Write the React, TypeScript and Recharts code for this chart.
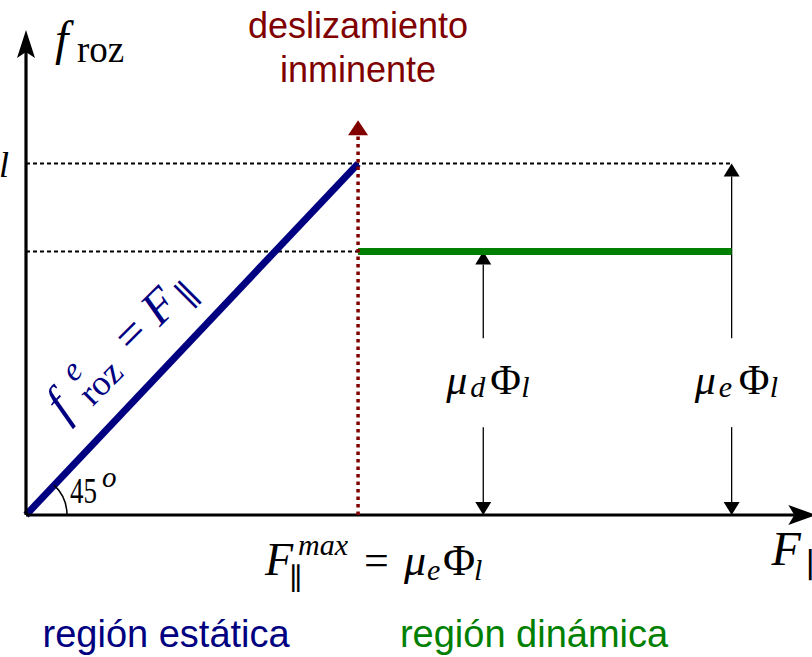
import React from 'react';
import { ComposedChart, Line, XAxis, YAxis, ReferenceLine, ReferenceDot } from 'recharts';

const AZUL = '#000080';
const VERDE = '#008000';
const GRANATE = '#800000';
const SERIF = '"Liberation Serif", "DejaVu Serif", serif';
const SANS = '"Liberation Sans", Arial, sans-serif';

// F|| en el eje x, f_roz en el eje y; unidad: mu_e*Phi_l = 10
const limiteEjes = [23.67, 13.8];
const fuerzaMaxima = 10;
const rozDinamico = 7.5;
const cotas = [13.77, 21.25]; // flechas de mu_d Phi_l y mu_e Phi_l
const huecoCota = [2.5, 5.03];
const alturaCota = 3.44;

const tramoEstatico = [
  { F: 0, f: 0 },
  { F: fuerzaMaxima, f: fuerzaMaxima },
];
const tramoDinamico = [
  { F: fuerzaMaxima, f: rozDinamico },
  { F: cotas[1], f: rozDinamico },
];

// linea con punta de flecha (notch > 0 da la punta tipo "stealth")
const flecha = (len: number, half: number, notch = 0) => (p: any) => {
  const { x1, y1, x2, y2, stroke, strokeWidth, strokeDasharray } = p;
  const d = Math.hypot(x2 - x1, y2 - y1) || 1;
  const ux = (x2 - x1) / d;
  const uy = (y2 - y1) / d;
  const bx = x2 - ux * len;
  const by = y2 - uy * len;
  const mx = bx + ux * notch;
  const my = by + uy * notch;
  const pts = [
    [x2, y2],
    [bx - uy * half, by + ux * half],
    [mx, my],
    [bx + uy * half, by - ux * half],
  ];
  return (
    <g>
      <line x1={x1} y1={y1} x2={mx} y2={my} stroke={stroke} strokeWidth={strokeWidth} strokeDasharray={strokeDasharray} />
      <polygon points={pts.map((q) => q.join(',')).join(' ')} fill={stroke} />
    </g>
  );
};

const MuPhi = ({ cx, cy, sub }: { cx: number; cy: number; sub: string }) => (
  <g fontFamily={SERIF} fill="#000">
    <text x={cx - 37} y={cy} fontSize={42} fontStyle="italic">μ</text>
    <text x={cx - 13} y={cy + 3} fontSize={30} fontStyle="italic">{sub}</text>
    <text x={cx + 7} y={cy} fontSize={42}>Φ</text>
    <text x={cx + 38} y={cy + 3} fontSize={30} fontStyle="italic">l</text>
  </g>
);

const TituloY = ({ cx, cy }: any) => (
  <g fontFamily={SERIF} fill="#000">
    <text x={cx} y={cy} fontSize={48} fontStyle="italic">f</text>
    <text x={cx + 22} y={cy + 7} fontSize={37}>roz</text>
  </g>
);

const TituloX = ({ cx, cy }: any) => (
  <g fontFamily={SERIF} fill="#000">
    <text x={cx} y={cy} fontSize={48} fontStyle="italic">F</text>
    <text x={cx + 34} y={cy + 12} fontSize={34}>∥</text>
  </g>
);

const Angulo = ({ cx, cy }: any) => {
  const r = 41;
  const a = (46.7 * Math.PI) / 180;
  return (
    <g>
      <path d={`M ${cx + r} ${cy} A ${r} ${r} 0 0 0 ${cx + r * Math.cos(a)} ${cy - r * Math.sin(a)}`} fill="none" stroke="#000" strokeWidth={1.5} />
      <text x={cx + 44} y={cy - 12} fontFamily={SERIF} fontSize={36} textLength={27} lengthAdjust="spacingAndGlyphs">45</text>
      <text x={cx + 76} y={cy - 28} fontFamily={SERIF} fontSize={29} fontStyle="italic">o</text>
    </g>
  );
};

const Pendiente = ({ cx, cy }: any) => (
  <g transform={`translate(${cx},${cy}) rotate(-45)`} fontFamily={SERIF} fill={AZUL}>
    <text x={-92} y={0} fontSize={50} fontStyle="italic">f</text>
    <text x={-58} y={-21} fontSize={33} fontStyle="italic">e</text>
    <text x={-62} y={9} fontSize={36}>roz</text>
    <text x={3} y={0} fontSize={48}>=</text>
    <text x={42} y={0} fontSize={48} fontStyle="italic">F</text>
    <text x={77} y={9} fontSize={34}>∥</text>
  </g>
);

const FuerzaMax = ({ cx, cy }: any) => (
  <g fontFamily={SERIF} fill="#000">
    <text x={cx - 93} y={cy} fontSize={46} fontStyle="italic">F</text>
    <text x={cx - 69} y={cy + 14} fontSize={30}>∥</text>
    <text x={cx - 60} y={cy - 20} fontSize={30} fontStyle="italic">max</text>
    <text x={cx + 6} y={cy} fontSize={44}>=</text>
    <text x={cx + 46} y={cy} fontSize={44} fontStyle="italic">μ</text>
    <text x={cx + 69} y={cy + 5} fontSize={30} fontStyle="italic">e</text>
    <text x={cx + 85} y={cy} fontSize={44}>Φ</text>
    <text x={cx + 116} y={cy + 5} fontSize={30} fontStyle="italic">l</text>
  </g>
);

const Rotulo = ({ cx, cy, color, lines, size }: any) => (
  <text x={cx} y={cy} fontFamily={SANS} fontSize={size} fill={color} textAnchor="middle">
    {lines.map((t: string, i: number) => (
      <tspan key={i} x={cx} dy={i === 0 ? 0 : 44}>{t}</tspan>
    ))}
  </text>
);

export default function App() {
  return (
    <div style={{ position: 'absolute', left: 0, top: 0, width: 812, height: 657, overflow: 'hidden', background: '#fff' }}>
      <ComposedChart width={812} height={657} margin={{ top: 30, right: 0, bottom: 142, left: 26 }}>
        <XAxis dataKey="F" type="number" domain={[0, limiteEjes[0]]} hide />
        <YAxis type="number" domain={[0, limiteEjes[1]]} hide />

        {/* lineas de referencia discontinuas */}
        <ReferenceLine segment={[{ x: 0, y: fuerzaMaxima }, { x: cotas[1], y: fuerzaMaxima }]} stroke="#000" strokeWidth={2} strokeDasharray="4 3" ifOverflow="visible" />
        <ReferenceLine segment={[{ x: 0, y: rozDinamico }, { x: fuerzaMaxima, y: rozDinamico }]} stroke="#000" strokeWidth={2} strokeDasharray="4 3" ifOverflow="visible" />

        {/* cotas */}
        <ReferenceLine segment={[{ x: cotas[0], y: huecoCota[1] }, { x: cotas[0], y: rozDinamico }]} stroke="#000" strokeWidth={1.3} ifOverflow="visible" shape={flecha(13, 8)} />
        <ReferenceLine segment={[{ x: cotas[0], y: huecoCota[0] }, { x: cotas[0], y: 0 }]} stroke="#000" strokeWidth={1.3} ifOverflow="visible" shape={flecha(13, 8)} />
        <ReferenceLine segment={[{ x: cotas[1], y: huecoCota[1] }, { x: cotas[1], y: fuerzaMaxima }]} stroke="#000" strokeWidth={1.3} ifOverflow="visible" shape={flecha(13, 8)} />
        <ReferenceLine segment={[{ x: cotas[1], y: huecoCota[0] }, { x: cotas[1], y: 0 }]} stroke="#000" strokeWidth={1.3} ifOverflow="visible" shape={flecha(13, 8)} />

        <Line data={tramoEstatico} dataKey="f" type="linear" stroke={AZUL} strokeWidth={7} dot={false} activeDot={false} isAnimationActive={false} />
        <Line data={tramoDinamico} dataKey="f" type="linear" stroke={VERDE} strokeWidth={7} dot={false} activeDot={false} isAnimationActive={false} />

        {/* ejes */}
        <ReferenceLine segment={[{ x: 0, y: 0 }, { x: 23.8, y: 0 }]} stroke="#000" strokeWidth={3.2} ifOverflow="visible" shape={flecha(28, 10, 6)} />
        <ReferenceLine segment={[{ x: 0, y: 0 }, { x: 0, y: limiteEjes[1] }]} stroke="#000" strokeWidth={3.2} ifOverflow="visible" shape={flecha(28, 9, 6)} />

        {/* deslizamiento inminente */}
        <ReferenceLine segment={[{ x: fuerzaMaxima, y: 0 }, { x: fuerzaMaxima, y: 11.23 }]} stroke={GRANATE} strokeWidth={3.5} strokeDasharray="3.5 4" ifOverflow="visible" isFront shape={flecha(15, 10)} />

        <ReferenceDot x={cotas[0]} y={alturaCota} r={0} ifOverflow="visible" shape={(p: any) => <MuPhi cx={p.cx} cy={p.cy} sub="d" />} />
        <ReferenceDot x={cotas[1]} y={alturaCota} r={0} ifOverflow="visible" shape={(p: any) => <MuPhi cx={p.cx} cy={p.cy} sub="e" />} />
        <ReferenceDot x={0} y={fuerzaMaxima} r={0} ifOverflow="visible" shape={(p: any) => (
          <text x={p.cx - 27} y={p.cy + 13} fontFamily={SERIF} fontSize={36} fontStyle="italic">l</text>
        )} />
        <ReferenceDot x={0.87} y={13.1} r={0} ifOverflow="visible" shape={(p: any) => <TituloY cx={p.cx} cy={p.cy} />} />
        <ReferenceDot x={22.45} y={-1.42} r={0} ifOverflow="visible" shape={(p: any) => <TituloX cx={p.cx} cy={p.cy} />} />
        <ReferenceDot x={0} y={0} r={0} ifOverflow="visible" shape={(p: any) => <Angulo cx={p.cx} cy={p.cy} />} />
        <ReferenceDot x={3.13} y={4.5} r={0} ifOverflow="visible" shape={(p: any) => <Pendiente cx={p.cx} cy={p.cy} />} />
        <ReferenceDot x={fuerzaMaxima} y={-1.71} r={0} ifOverflow="visible" shape={(p: any) => <FuerzaMax cx={p.cx} cy={p.cy} />} />
        <ReferenceDot x={fuerzaMaxima} y={13.57} r={0} ifOverflow="visible" shape={(p: any) => (
          <Rotulo cx={p.cx} cy={p.cy} color={GRANATE} size={36} lines={['deslizamiento', 'inminente']} />
        )} />
        <ReferenceDot x={4.22} y={-3.76} r={0} ifOverflow="visible" shape={(p: any) => (
          <Rotulo cx={p.cx} cy={p.cy} color={AZUL} size={38} lines={['región estática']} />
        )} />
        <ReferenceDot x={15.3} y={-3.76} r={0} ifOverflow="visible" shape={(p: any) => (
          <Rotulo cx={p.cx} cy={p.cy} color={VERDE} size={38} lines={['región dinámica']} />
        )} />
      </ComposedChart>
    </div>
  );
}
